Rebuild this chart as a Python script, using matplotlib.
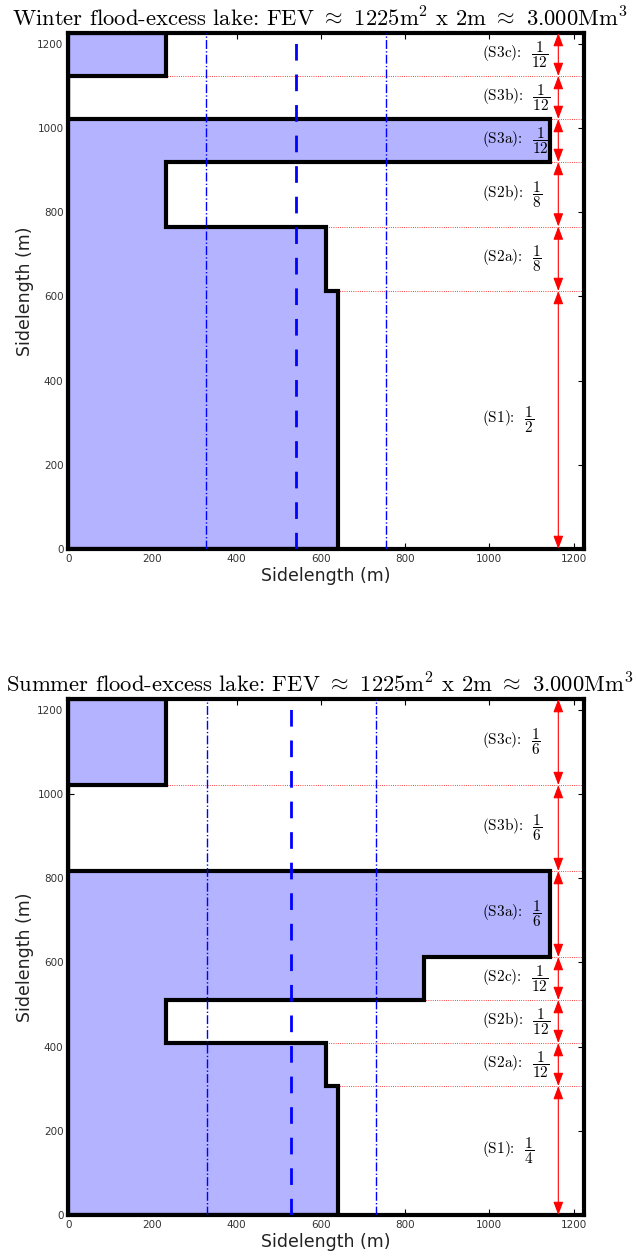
import numpy as np
import matplotlib.pyplot as plt

plt.rcParams['mathtext.fontset'] = 'cm'
plt.rcParams['axes.unicode_minus'] = False

total = 1225.0

# winter lake: sections bottom -> top
w_names = ['(S1)', '(S2a)', '(S2b)', '(S3a)', '(S3b)', '(S3c)']
w_num = [1, 1, 1, 1, 1, 1]
w_den = [2, 8, 8, 12, 12, 12]
w_width = [640, 612, 232, 1145, 0, 232]
w_vlines = [326, 541, 755]

# summer lake
s_names = ['(S1)', '(S2a)', '(S2b)', '(S2c)', '(S3a)', '(S3b)', '(S3c)']
s_num = [1, 1, 1, 1, 1, 1, 1]
s_den = [4, 12, 12, 12, 6, 6, 6]
s_width = [640, 612, 232, 845, 1145, 0, 232]
s_vlines = [330, 529, 731]

titles = ['Winter flood-excess lake: FEV $\\approx$ 1225m$^2$ x 2m $\\approx$ 3.000Mm$^3$',
          'Summer flood-excess lake: FEV $\\approx$ 1225m$^2$ x 2m $\\approx$ 3.000Mm$^3$']

fig = plt.figure(figsize=(6.36, 12.6), dpi=100)
ax1 = fig.add_axes([0.1074, 0.5643, 0.811, 0.4095])
ax2 = fig.add_axes([0.1074, 0.0357, 0.811, 0.4095])


def draw_lake(ax, names, num, den, width, vlines, title):
    fr = np.array(num) / np.array(den)
    edges = np.concatenate([[0], np.cumsum(fr)]) * total
    xs = [0]
    ys = [0]
    for i in range(len(width)):
        xs += [width[i], width[i]]
        ys += [edges[i], edges[i + 1]]
    xs.append(0)
    ys.append(total)
    ax.fill(xs, ys, facecolor=(0.7, 0.7, 1.0), edgecolor='black', lw=3, zorder=2)

    for y in edges[1:-1]:
        ax.axhline(y, color='red', ls=':', lw=0.6, zorder=1)

    ax.axvline(vlines[0], color='blue', ls='-.', lw=1, zorder=3)
    ax.axvline(vlines[1], color='blue', ls='--', lw=2, dashes=(6, 5), zorder=3)
    ax.axvline(vlines[2], color='blue', ls='-.', lw=1, zorder=3)

    xa = 0.95 * total
    for i in range(len(names)):
        ax.annotate('', xy=(xa, edges[i]), xytext=(xa, edges[i + 1]),
                    arrowprops=dict(arrowstyle='<|-|>,head_length=0.8,head_width=0.3',
                                    color='red', lw=0.8, shrinkA=0, shrinkB=0), zorder=4)
        mid = (edges[i] + edges[i + 1]) / 2
        ax.text(982, mid, names[i] + ':  $\\dfrac{%d}{%d}$' % (num[i], den[i]),
                fontfamily='cmr10', fontsize=11, va='center', ha='left', zorder=5)

    ax.set_xlim(0, total)
    ax.set_ylim(0, total)
    ax.set_xticks(range(0, 1201, 200))
    ax.set_yticks(range(0, 1201, 200))
    ax.tick_params(direction='in', top=True, right=True, labelsize=7.5,
                   labelcolor='#333333', length=4)
    for sp in ax.spines.values():
        sp.set_linewidth(3)
    ax.set_xlabel('Sidelength (m)', fontsize=12.5, color='#222222', labelpad=2)
    ax.set_ylabel('Sidelength (m)', fontsize=12.5, color='#222222', labelpad=2)
    ax.set_title(title, fontfamily='cmr10', fontsize=16.3, pad=5, x=0.488)


draw_lake(ax1, w_names, w_num, w_den, w_width, w_vlines, titles[0])
draw_lake(ax2, s_names, s_num, s_den, s_width, s_vlines, titles[1])

fig.savefig('out.png', dpi=100)
